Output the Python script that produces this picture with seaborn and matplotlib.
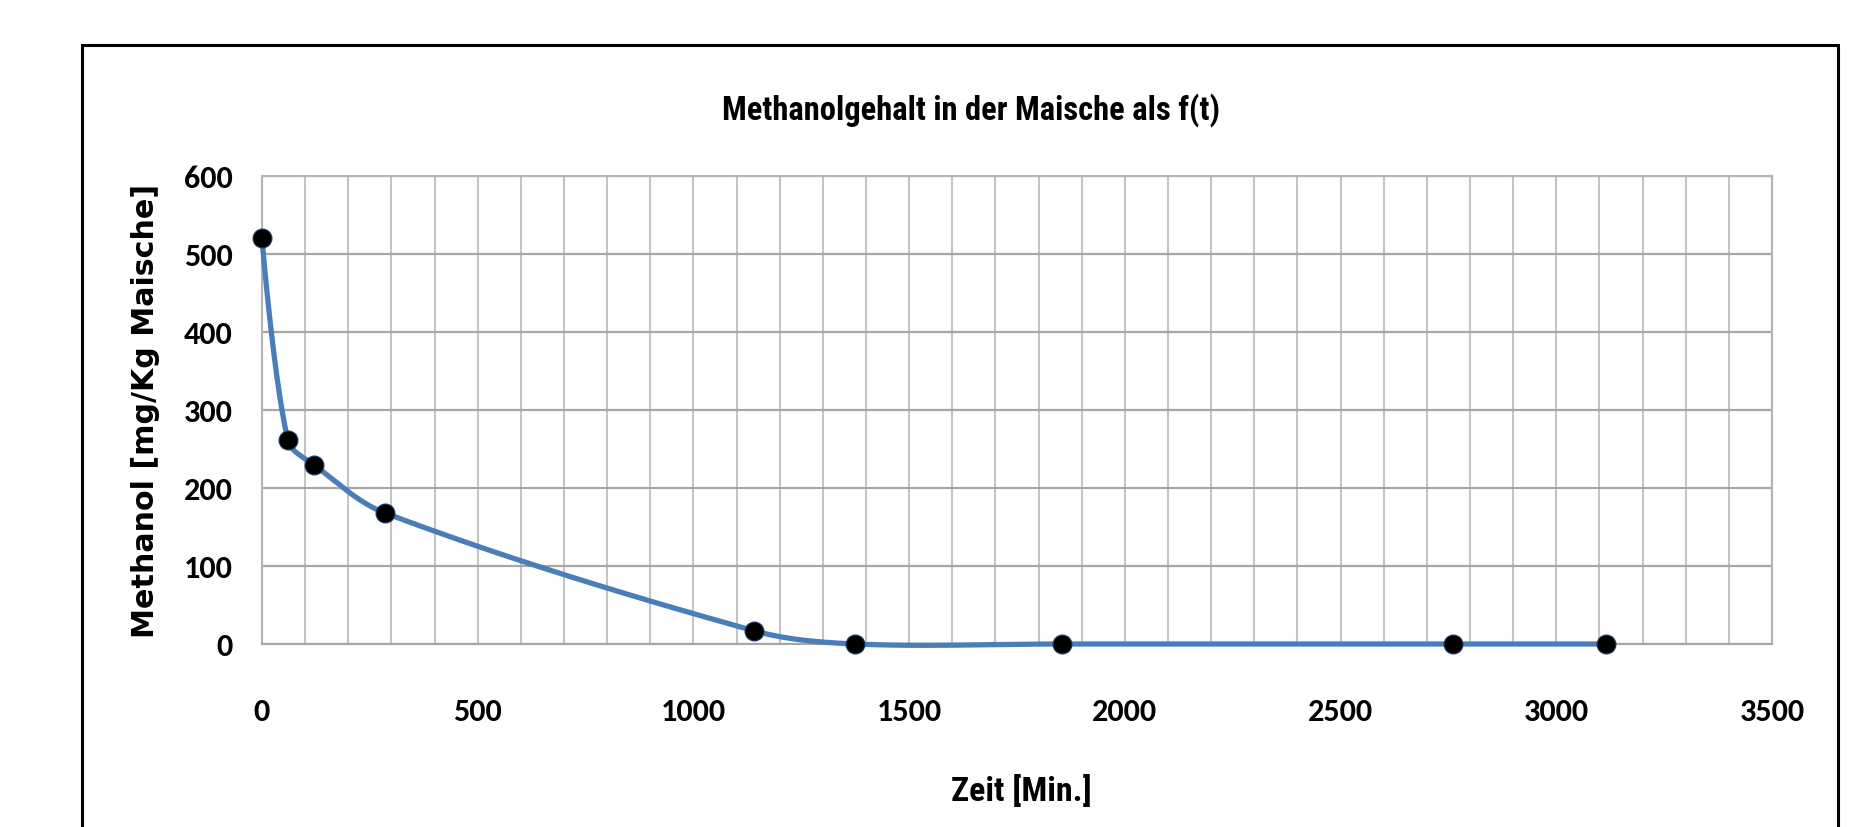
import numpy as np
import pandas as pd
import matplotlib
matplotlib.use("Agg")
import matplotlib.pyplot as plt
from matplotlib.patches import Rectangle
from matplotlib import font_manager as fm
import seaborn as sns

# ---- data ----
zeit_min = [0, 60, 120, 285, 1140, 1375, 1855, 2760, 3115]
methanol = [520, 261, 230, 168, 17, 0, 0, 0, 0]
x_ticks = [0, 500, 1000, 1500, 2000, 2500, 3000, 3500]
y_ticks = [0, 100, 200, 300, 400, 500, 600]
title = "Methanolgehalt in der Maische als f(t)"
x_label = "Zeit [Min.]"
y_label = "Methanol [mg/Kg Maische]"

sns.set_theme(style="white")
_names = {f.name for f in fm.fontManager.ttflist}


def pick(*cands):
    for c in cands:
        if c in _names:
            return c
    return "DejaVu Sans"


TICK_FONT = pick("Carlito", "Archivo Narrow", "Roboto Condensed", "PT Sans Narrow", "Liberation Sans")
TITLE_FONT = pick("Roboto Condensed", "Archivo Narrow", "Asap Condensed", "PT Sans Narrow", "Carlito")
YLAB_FONT = pick("DejaVu Sans")
plt.rcParams["font.family"] = [TICK_FONT, "DejaVu Sans"]
plt.rcParams["text.color"] = "black"
plt.rcParams["axes.labelcolor"] = "black"
plt.rcParams["xtick.color"] = "black"
plt.rcParams["ytick.color"] = "black"

W, H = 1872, 828
fig = plt.figure(figsize=(W / 100, H / 100), dpi=100)
AX_L, AX_R, AX_T, AX_B = 262, 1772, 177, 645
ax = fig.add_axes([AX_L / W, 1 - AX_B / H, (AX_R - AX_L) / W, (AX_B - AX_T) / H])

XMAX, YMAX = 3500, 600
ax.set_xlim(0, XMAX)
ax.set_ylim(0, YMAX)

# smoothed line (Excel-like smoothing: Bezier controls scaled by segment lengths, screen space)
df = pd.DataFrame({"t": zeit_min, "m": methanol})
sx = (AX_R - AX_L) / XMAX
sy = (AX_B - AX_T) / YMAX
P = np.column_stack([df["t"].to_numpy() * sx, df["m"].to_numpy() * sy]).astype(float)
n = len(P)
curve = []
for i in range(n - 1):
    p0 = P[i - 1] if i > 0 else P[i]
    p1 = P[i]
    p2 = P[i + 1]
    p3 = P[i + 2] if i + 2 < n else P[i + 1]
    d01 = np.linalg.norm(p1 - p0)
    d12 = np.linalg.norm(p2 - p1)
    d23 = np.linalg.norm(p3 - p2)
    f = 1.0 / 3.0
    c1 = p1 + (f * d12 / (d01 + d12) * (p2 - p0) if d01 > 0 else 0)
    c2 = p2 - (f * d12 / (d12 + d23) * (p3 - p1) if d23 > 0 else 0)
    tt = np.linspace(0, 1, 80)[:, None]
    seg = ((1 - tt) ** 3) * p1 + 3 * ((1 - tt) ** 2) * tt * c1 + 3 * (1 - tt) * tt ** 2 * c2 + tt ** 3 * p2
    curve.append(seg if i == 0 else seg[1:])
curve = np.vstack(curve)
smooth = pd.DataFrame({"t": curve[:, 0] / sx, "m": curve[:, 1] / sy})

sns.lineplot(data=smooth, x="t", y="m", sort=False, color="#4a7ebb", linewidth=3.8,
             ax=ax, zorder=3, clip_on=False)
sns.scatterplot(data=df, x="t", y="m", color="black", s=185, edgecolor="#1f3864",
                linewidth=0.8, ax=ax, zorder=4, clip_on=False)

# grid
ax.set_xticks(x_ticks)
ax.set_xticks(np.arange(0, XMAX + 1, 100), minor=True)
ax.set_yticks(y_ticks)
ax.grid(True, which="both", axis="x", color="#c4c4c4", linewidth=1.5)
ax.grid(True, which="major", axis="y", color="#a6a6a6", linewidth=1.6)
ax.set_axisbelow(True)
for s in ax.spines.values():
    s.set_color("#b4b4b4")
    s.set_linewidth(1.5)
ax.spines["bottom"].set_color("#a6a6a6")

ax.tick_params(axis="both", which="both", length=0)
ax.tick_params(axis="x", pad=38)
ax.tick_params(axis="y", pad=21)

ax.set_xlabel(x_label, fontsize=22, fontweight="heavy", va="center", color="black",
              family=[TITLE_FONT, "DejaVu Sans"])
ax.xaxis.set_label_coords((1021 - AX_L) / (AX_R - AX_L), (AX_B - 792) / (AX_B - AX_T))
ax.set_ylabel(y_label, fontsize=20, fontweight="bold", va="center", color="black",
              family=[YLAB_FONT])
ax.yaxis.set_label_coords((146 - AX_L) / (AX_R - AX_L), 0.5)
ttl = ax.set_title(title, fontsize=21, fontweight="heavy", va="center", pad=0, color="black",
                   family=[TITLE_FONT, "DejaVu Sans"],
                   x=(971 - AX_L) / (AX_R - AX_L), y=1 + (AX_T - 110) / (AX_B - AX_T))

# fit font sizes to the widths measured on the reference
ticklabs = ax.get_xticklabels() + ax.get_yticklabels()
for lab in ticklabs:
    lab.set_fontsize(22)
    lab.set_fontweight("bold")
    lab.set_color("black")
fig.canvas.draw()
r = fig.canvas.get_renderer()


def fit(txt, target, vertical=False):
    bb = txt.get_window_extent(r)
    size = bb.height if vertical else bb.width
    if size > 0:
        txt.set_fontsize(txt.get_fontsize() * target / size)


fit(ttl, 498)
fit(ax.xaxis.label, 140)
fit(ax.yaxis.label, 455, vertical=True)
ref = [l for l in ax.get_xticklabels() if l.get_text() == "2000"]
if ref:
    bb = ref[0].get_window_extent(r)
    ts = 22 * 65 / bb.width
    for lab in ticklabs:
        lab.set_fontsize(ts)

# outer chart border
fig.patches.append(Rectangle((82 / W, -0.05), (1838 - 82) / W, 1 - 46 / H + 0.05,
                             transform=fig.transFigure, fill=False,
                             edgecolor="black", linewidth=2.2))

fig.savefig("out.png", dpi=100, facecolor="white")
